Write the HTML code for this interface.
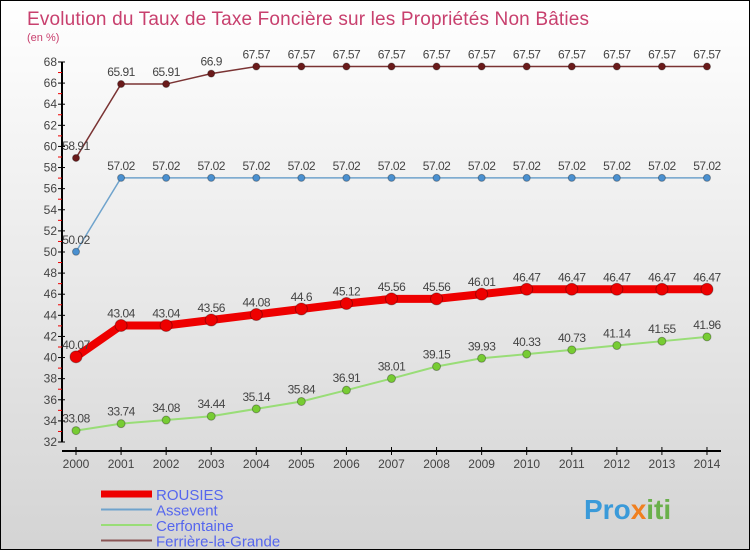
<!DOCTYPE html>
<html><head><meta charset="utf-8"><style>
body{margin:0;}
#c{width:750px;height:550px;position:relative;box-sizing:border-box;border:1px solid #000;background:linear-gradient(#ffffff,#d4d4d4);font-family:"Liberation Sans",sans-serif;overflow:hidden;}
text{font-family:"Liberation Sans",sans-serif;}
</style></head><body>
<div id="c">
<svg id="s" width="750" height="550">
<text x="26" y="24" font-size="19" fill="#c8406e" textLength="562">Evolution du Taux de Taxe Foncière sur les Propriétés Non Bâties</text>
<text x="26" y="40" font-size="11" fill="#c8406e">(en %)</text>
<g id="axes"></g><g id="series"></g><g id="legend"></g>
<text x="583" y="518" font-size="28" font-weight="bold" fill="#3a9ad9">Pro<tspan fill="#f08020">x</tspan><tspan fill="#6ab04c">iti</tspan></text>
</svg></div>
<script>
const years=[2000,2001,2002,2003,2004,2005,2006,2007,2008,2009,2010,2011,2012,2013,2014];
const yTicks=[32,34,36,38,40,42,44,46,48,50,52,54,56,58,60,62,64,66,68];
const rousies=[40.07,43.04,43.04,43.56,44.08,44.6,45.12,45.56,45.56,46.01,46.47,46.47,46.47,46.47,46.47];
const assevent=[50.02,57.02,57.02,57.02,57.02,57.02,57.02,57.02,57.02,57.02,57.02,57.02,57.02,57.02,57.02];
const cerfontaine=[33.08,33.74,34.08,34.44,35.14,35.84,36.91,38.01,39.15,39.93,40.33,40.73,41.14,41.55,41.96];
const ferriere=[58.91,65.91,65.91,66.9,67.57,67.57,67.57,67.57,67.57,67.57,67.57,67.57,67.57,67.57,67.57];
const NS="http://www.w3.org/2000/svg";
const X=i=>75+i*45.07, Y=v=>441-(v-32)*10.556;
function mk(t,a,p){const e=document.createElementNS(NS,t);for(const k in a)e.setAttribute(k,a[k]);p.appendChild(e);return e;}
const ax=document.getElementById('axes');
const ya=mk('line',{x1:61,y1:Y(68),x2:61,y2:441,stroke:'#000','stroke-width':2},ax);


const xa=mk('line',{x1:61,y1:450,x2:720,y2:450,stroke:'#000','stroke-width':2},ax);


yTicks.forEach(v=>{mk('line',{x1:57,y1:Y(v),x2:64,y2:Y(v),stroke:'#000'},ax);
 if(v<68)mk('line',{x1:57,y1:Y(v+1),x2:61,y2:Y(v+1),stroke:'#e00'},ax);
 const t=mk('text',{x:56,y:Y(v)+4,'font-size':12,'text-anchor':'end',fill:'#444'},ax);t.textContent=v;
 
 });
years.forEach((y,i)=>{mk('line',{x1:X(i),y1:446,x2:X(i),y2:454,stroke:'#000'},ax);
 const t=mk('text',{x:X(i),y:467,'font-size':12,'text-anchor':'middle',fill:'#444'},ax);t.textContent=y;
 
 });
const sg=document.getElementById('series');
function series(vals,name,color,w,r,dot){
 const g=mk('g',{},sg);
 
 
 mk('polyline',{points:vals.map((v,i)=>X(i)+','+Y(v)).join(' '),fill:'none',stroke:color,'stroke-width':w},g);
 vals.forEach((v,i)=>{const c=mk('circle',{cx:X(i),cy:Y(v),r:r,fill:dot,stroke:'rgba(0,0,0,0.3)'},g);
  
  
  const t=mk('text',{x:X(i),y:Y(v)-8,'font-size':12,'text-anchor':'middle',fill:'#444','letter-spacing':'-0.5'},g);
  t.textContent=String(v);
  
  });
}
series(cerfontaine,'cerfontaine','#99dd77',2,4,'#77cc33');
series(assevent,'assevent','#6fa3cc',1.5,3.5,'#4a90d0');
series(ferriere,'ferriere','#7a3333',1.5,3.5,'#6a1a1a');
series(rousies,'rousies','#ee0000',8,6,'#ee0000');
const lg=document.getElementById('legend');
const items=[['ROUSIES','#ee0000',7],['Assevent','#6fa3cc',2],['Cerfontaine','#99dd77',2],['Ferrière-la-Grande','#8a5555',2]];
items.forEach((it,i)=>{const y=493+i*15.5;
 const l=mk('line',{x1:100,y1:y,x2:151,y2:y,stroke:it[1],'stroke-width':it[2]},lg);
 
 
 const t=mk('text',{x:155,y:y+6,'font-size':15,fill:'#5566ee'},lg);t.textContent=it[0];
 
 });
</script>
</body></html>
